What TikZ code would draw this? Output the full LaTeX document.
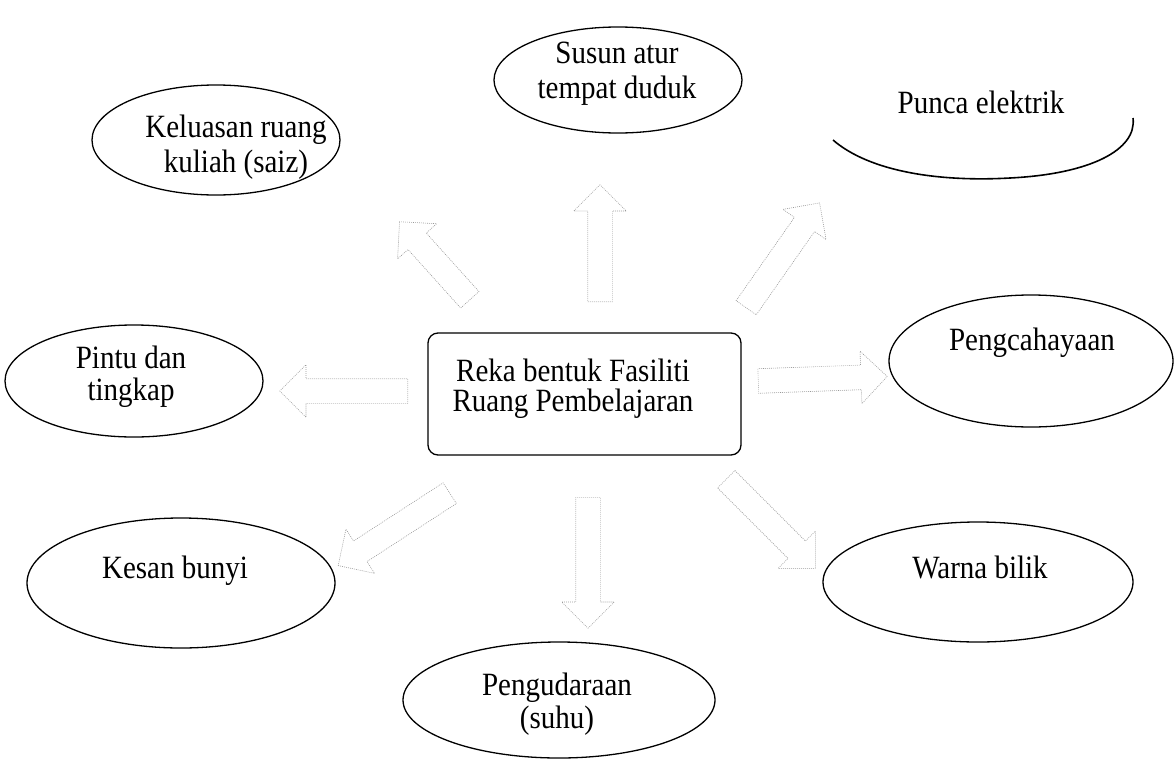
\documentclass[tikz,border=0pt]{standalone}
\usepackage{fontspec}
\setmainfont{Liberation Serif}
\usetikzlibrary{shapes.geometric,shapes.arrows}
\newcommand\fsz[1]{\fontsize{29}{#1}\selectfont}
\begin{document}
\begin{tikzpicture}[x=1pt,y=-1pt,
  oval/.style={draw, ellipse, line width=1.3pt, inner sep=0pt},
  lbl/.style={inner sep=0pt, align=center, yscale=1.12, font=\fsz{31}},
  blk/.style={single arrow, draw=black!40, line width=0.6pt,
    dash pattern=on 0.9pt off 1.1pt, inner sep=12pt,
    single arrow head extend=14pt, anchor=tail}]
\useasboundingbox (0,0) rectangle (1175,763);

% ellipses
\node[oval, minimum width=248pt, minimum height=110pt] (kel) at (216,140) {};
\node[lbl] (kelT) at (236,147) {Keluasan ruang\\kuliah (saiz)};

\node[oval, minimum width=248pt, minimum height=106pt] (sus) at (618,80) {};
\node[lbl] (susT) at (617,74) {Susun atur\\tempat duduk};

\draw[line width=1.6pt] (833,140) .. controls (870,172) and (940,182) .. (1010,178)
  .. controls (1090,174) and (1137,150) .. (1133,118);
\node[lbl, anchor=base] (punT) at (981,113) {Punca elektrik};

\node[oval, minimum width=258pt, minimum height=112pt] (pin) at (134,381) {};
\node[lbl, font=\fsz{28.5}] (pinT) at (131,377) {Pintu dan\\tingkap};

\node[draw, rounded corners=10pt, line width=1.3pt, minimum width=313pt,
  minimum height=122pt, inner sep=0pt] (ctr) at (584.5,394) {};
\node[lbl, font=\fsz{27}] (ctrT) at (573,389) {Reka bentuk Fasiliti\\Ruang Pembelajaran};

\node[oval, minimum width=284pt, minimum height=132pt] (cah) at (1031,361) {};
\node[lbl, anchor=base] (cahT) at (1032,350) {Pengcahayaan};

\node[oval, minimum width=308pt, minimum height=130pt] (kes) at (181,583) {};
\node[lbl, anchor=base] (kesT) at (175,578) {Kesan bunyi};

\node[oval, minimum width=310pt, minimum height=120pt] (war) at (978,582) {};
\node[lbl, anchor=base] (warT) at (980,578) {Warna bilik};

\node[oval, minimum width=312pt, minimum height=116pt] (ped) at (559,700) {};
\node[lbl, font=\fsz{30}] (pedT) at (557,704) {Pengudaraan\\(suhu)};

% block arrows
\node[blk, minimum height=105pt, rotate=132] (a1) at (470,300) {};
\node[blk, minimum height=117pt, rotate=90] (a2) at (600,302) {};
\node[blk, minimum height=128pt, rotate=55] (a3) at (746,308) {};
\node[blk, minimum height=128pt, rotate=180] (a4) at (408,391) {};
\node[blk, minimum height=129pt, rotate=2] (a5) at (758,381) {};
\node[blk, minimum height=133pt, rotate=213] (a6) at (450,493) {};
\node[blk, minimum height=131pt, rotate=-90] (a7) at (588,497) {};
\node[blk, minimum height=126pt, rotate=-45] (a8) at (726,479) {};
\end{tikzpicture}
\end{document}
